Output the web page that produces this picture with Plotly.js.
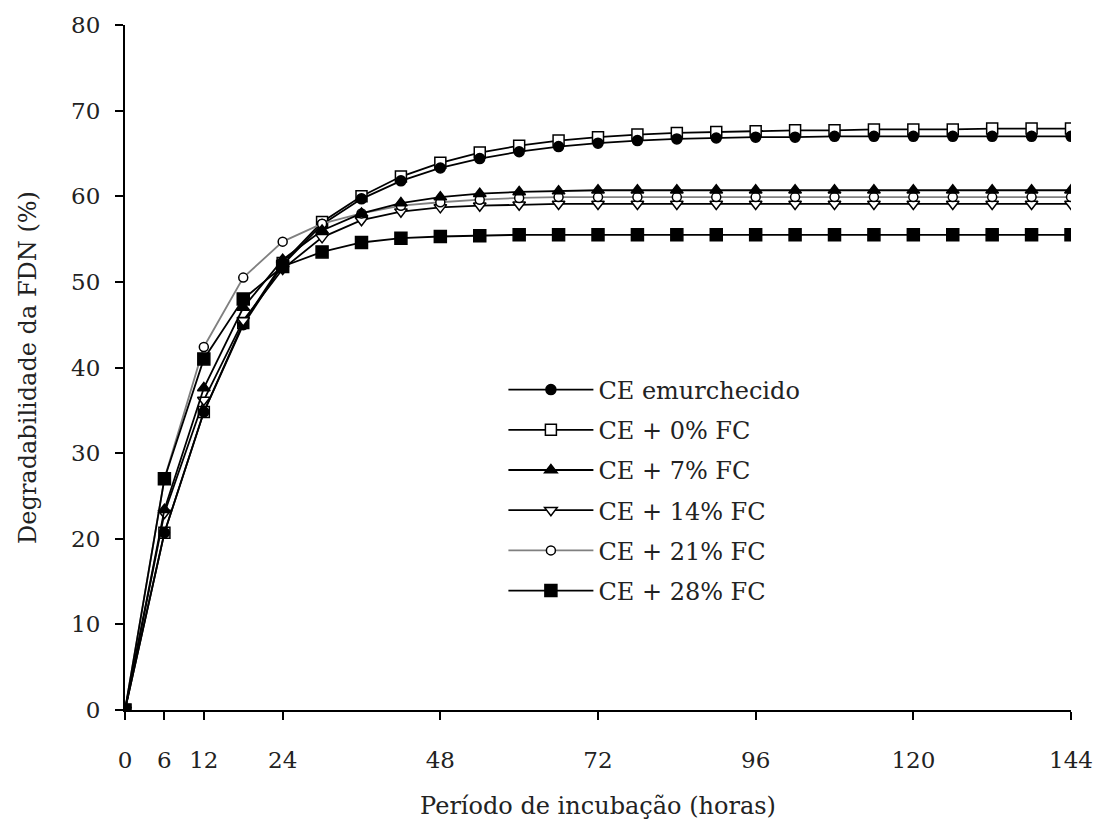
<!DOCTYPE html>
<html>
<head>
<meta charset="utf-8">
<script src="https://cdn.plot.ly/plotly-3.0.1.min.js"></script>
<style>html,body{margin:0;padding:0;background:#fff;}</style>
</head>
<body>
<div id="chart" style="width:1098px;height:829px;"></div>
<script>
// Incubation times (hours)
const hours = [0, 6, 12, 18, 24, 30, 36, 42, 48, 54, 60, 66, 72, 78, 84, 90, 96, 102, 108, 114, 120, 126, 132, 138, 144];

// NDF degradability (%) per treatment
const ceEmurchecido = [0, 20.7, 34.8, 45.0, 52.0, 56.7, 59.7, 61.8, 63.3, 64.4, 65.2, 65.8, 66.2, 66.5, 66.7, 66.8, 66.9, 66.9, 67.0, 67.0, 67.0, 67.0, 67.0, 67.0, 67.0];
const ce0FC = [0, 20.7, 34.8, 45.2, 52.2, 57.0, 60.0, 62.3, 63.9, 65.1, 65.9, 66.5, 66.9, 67.2, 67.4, 67.5, 67.6, 67.7, 67.7, 67.8, 67.8, 67.8, 67.9, 67.9, 67.9];
const ce7FC = [0, 23.4, 37.6, 47.0, 52.6, 56.0, 58.0, 59.2, 59.9, 60.3, 60.5, 60.6, 60.7, 60.7, 60.7, 60.7, 60.7, 60.7, 60.7, 60.7, 60.7, 60.7, 60.7, 60.7, 60.7];
const ce14FC = [0, 23.0, 36.2, 45.5, 51.5, 55.2, 57.2, 58.2, 58.7, 58.9, 59.0, 59.1, 59.1, 59.1, 59.1, 59.1, 59.1, 59.1, 59.1, 59.1, 59.1, 59.1, 59.1, 59.1, 59.1];
const ce21FC = [0, 27.0, 42.4, 50.5, 54.7, 56.8, 58.0, 58.9, 59.3, 59.6, 59.8, 59.9, 59.9, 59.9, 59.9, 59.9, 59.9, 59.9, 59.9, 59.9, 59.9, 59.9, 59.9, 59.9, 59.9];
const ce28FC = [0, 27.0, 41.0, 48.0, 51.8, 53.5, 54.6, 55.1, 55.3, 55.4, 55.5, 55.5, 55.5, 55.5, 55.5, 55.5, 55.5, 55.5, 55.5, 55.5, 55.5, 55.5, 55.5, 55.5, 55.5];

const seriesNames = ["CE emurchecido", "CE + 0% FC", "CE + 7% FC", "CE + 14% FC", "CE + 21% FC", "CE + 28% FC"];
const xTickVals = [0, 6, 12, 24, 48, 72, 96, 120, 144];
const yTickVals = [0, 10, 20, 30, 40, 50, 60, 70, 80];

function tr(name, y, rank, symbol, size, fill, lineColor) {
  return {
    x: hours, y: y, name: name, type: 'scatter', mode: 'lines+markers',
    legendrank: rank, legendgroup: 'g' + rank,
    line: {color: lineColor, width: 1.8},
    marker: {symbol: symbol, size: size, color: fill, line: {color: '#000', width: 1.5}}
  };
}

const data = [
  tr(seriesNames[1], ce0FC, 2, 'square', 11, '#fff', '#000'),
  tr(seriesNames[0], ceEmurchecido, 1, 'circle', 10, '#000', '#000'),
  tr(seriesNames[3], ce14FC, 4, 'triangle-down', 11, '#fff', '#000'),
  tr(seriesNames[4], ce21FC, 5, 'circle', 9, '#fff', '#808080'),
  tr(seriesNames[2], ce7FC, 3, 'triangle-up', 11, '#000', '#000'),
  tr(seriesNames[5], ce28FC, 6, 'square', 12, '#000', '#000')
];

const fontFam = '"DejaVu Serif", "Liberation Serif", serif';
const txtColor = '#222';

const layout = {
  width: 1098, height: 829,
  margin: {l: 125, r: 27, t: 25, b: 119},
  paper_bgcolor: '#fff', plot_bgcolor: '#fff',
  font: {family: fontFam, size: 24, color: txtColor},
  showlegend: true,
  legend: {
    x: 0.4, y: 0.5, xanchor: 'left', yanchor: 'top',
    bgcolor: 'rgba(0,0,0,0)', font: {family: fontFam, size: 24, color: txtColor},
    tracegroupgap: 6, itemwidth: 85
  },
  xaxis: {
    range: [0, 144], tickmode: 'array', tickvals: xTickVals, ticktext: xTickVals.map(String),
    showgrid: false, zeroline: false, showline: true, linecolor: '#000', linewidth: 2,
    ticks: 'outside', ticklen: 8, tickwidth: 2, tickcolor: '#000',
    ticklabelstandoff: 20,
    tickfont: {family: fontFam, size: 23, color: txtColor},
    title: {text: 'Período de incubação (horas)', font: {family: fontFam, size: 24, color: txtColor}, standoff: 26}
  },
  yaxis: {
    range: [0, 80], tickmode: 'array', tickvals: yTickVals, ticktext: yTickVals.map(String),
    showgrid: false, zeroline: false, showline: true, linecolor: '#000', linewidth: 2,
    ticks: 'outside', ticklen: 8, tickwidth: 2, tickcolor: '#000',
    ticklabelstandoff: 10,
    tickfont: {family: fontFam, size: 23, color: txtColor},
    title: {text: 'Degradabilidade da FDN (%)', font: {family: fontFam, size: 24, color: txtColor}, standoff: 28}
  }
};

Plotly.newPlot('chart', data, layout, {displayModeBar: false, staticPlot: true});
</script>
</body>
</html>
